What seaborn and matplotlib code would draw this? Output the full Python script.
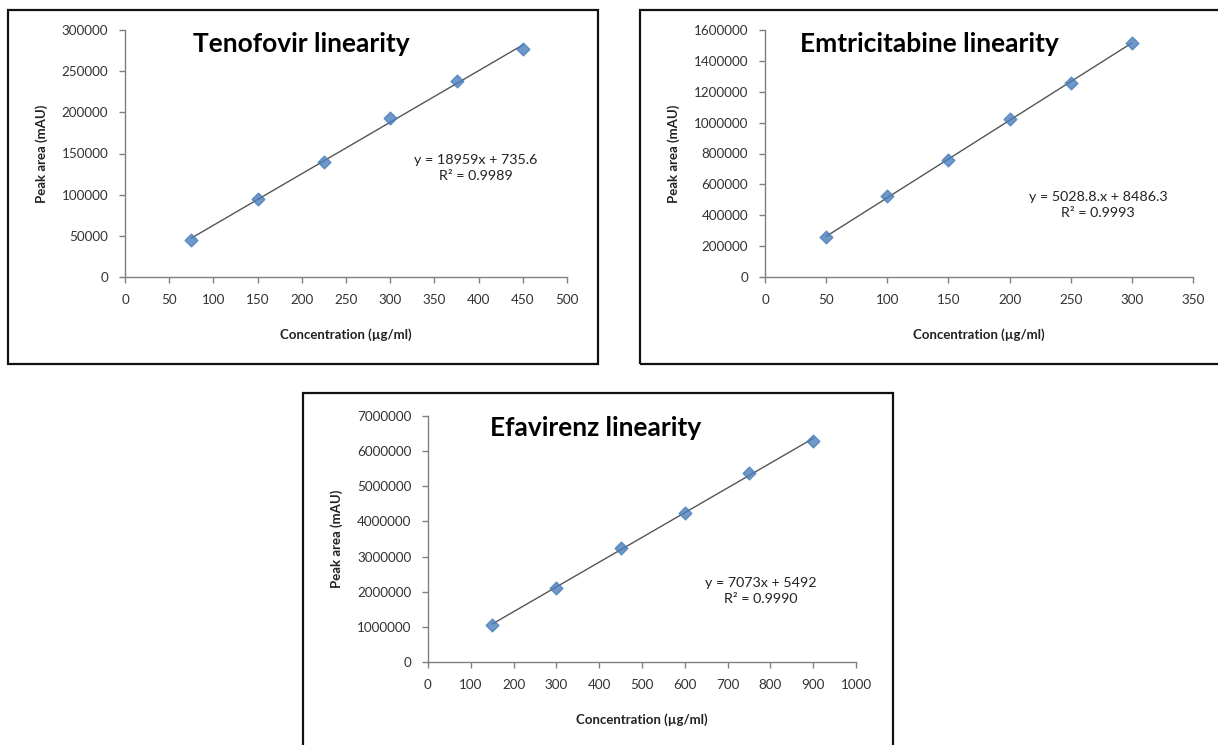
import matplotlib
matplotlib.use("Agg")
import matplotlib.pyplot as plt
import seaborn as sns
import pandas as pd
from matplotlib.patches import Rectangle

sns.set_theme(style="white")
plt.rcParams['font.family'] = ['Lato', 'DejaVu Sans']

# ---- data ----
teno_conc = [75, 150, 225, 300, 375, 450]
teno_area = [44800, 94400, 140000, 193500, 237900, 276500]

emtri_conc = [50, 100, 150, 200, 250, 300]
emtri_area = [256000, 523000, 761000, 1024000, 1254000, 1519000]

efav_conc = [150, 300, 450, 600, 750, 900]
efav_area = [1056000, 2113000, 3255000, 4226000, 5377000, 6300000]

titles = ["Tenofovir linearity", "Emtricitabine linearity", "Efavirenz linearity"]
equations = ["y = 18959x + 735.6\nR\u00b2 = 0.9989",
             "y = 5028.8.x + 8486.3\nR\u00b2 = 0.9993",
             "y = 7073x + 5492\nR\u00b2 = 0.9990"]
xlims = [500, 350, 1000]
xsteps = [50, 50, 100]
ylims = [300000, 1600000, 7000000]
ysteps = [50000, 200000, 1000000]

W, H = 1218, 745
fig = plt.figure(figsize=(W / 100, H / 100), dpi=100)

def fx(px):
    return px / W

def fy(py):
    return 1 - py / H

# panel frames (pixel boxes)
frames = [(8, 10, 598, 364), (640, 10, 1230, 364), (303, 393, 893, 760)]
for (x0, y0, x1, y1) in frames:
    fig.patches.append(Rectangle((fx(x0), fy(y1)), fx(x1 - x0), (y1 - y0) / H,
                                 transform=fig.transFigure, fill=False,
                                 edgecolor="#111111", linewidth=1.6, zorder=0))

# axes positions (pixel coords of plot area)
axes_px = [(125, 30, 567, 277), (765, 30, 1193, 277), (428, 416, 856, 662)]
title_pos = [(0.154, 0.945), (0.082, 0.945), (0.145, 0.95)]
eq_pos = [(0.794, 0.44), (0.778, 0.29), (0.778, 0.29)]

datasets = [(teno_conc, teno_area), (emtri_conc, emtri_area), (efav_conc, efav_area)]

for i, ((x0, y0, x1, y1), (xs, ys)) in enumerate(zip(axes_px, datasets)):
    ax = fig.add_axes([fx(x0), fy(y1), fx(x1 - x0), (y1 - y0) / H])
    df = pd.DataFrame({"conc": xs, "area": ys})
    sns.regplot(data=df, x="conc", y="area", ax=ax, ci=None, marker="D",
                scatter_kws=dict(s=42, color="#4A7EBB", edgecolor="#4A7EBB", zorder=3),
                line_kws=dict(color="#555555", linewidth=1.0, zorder=2))
    ax.set_xlim(0, xlims[i])
    ax.set_ylim(0, ylims[i])
    ax.set_xticks(range(0, xlims[i] + 1, xsteps[i]))
    ax.set_yticks(range(0, ylims[i] + 1, ysteps[i]))
    ax.set_xticklabels([str(v) for v in range(0, xlims[i] + 1, xsteps[i])])
    ax.set_yticklabels([str(v) for v in range(0, ylims[i] + 1, ysteps[i])])
    for s in ["top", "right"]:
        ax.spines[s].set_visible(False)
    for s in ["left", "bottom"]:
        ax.spines[s].set_color("#808080")
        ax.spines[s].set_linewidth(1.0)
    ax.tick_params(axis="both", which="major", direction="out", length=4, width=1,
                   color="#808080", labelsize=9.7, labelcolor="#333333", pad=8,
                   left=True, bottom=True)
    ax.set_xlabel("Concentration (\u00b5g/ml)", fontsize=9.5, fontweight="bold",
                  color="#222222", labelpad=16)
    ax.set_ylabel("Peak area (mAU)", fontsize=9.5, fontweight="bold",
                  color="#222222", labelpad=10)
    ax.set_facecolor("none")
    ax.text(title_pos[i][0], title_pos[i][1], titles[i], transform=ax.transAxes,
            fontsize=19, fontweight="bold", ha="left", va="center", color="black")
    ax.text(eq_pos[i][0], eq_pos[i][1], equations[i], transform=ax.transAxes,
            fontsize=10.3, ha="center", va="center", color="#222222", linespacing=1.4)

fig.savefig("out.png", dpi=100, facecolor="white")
